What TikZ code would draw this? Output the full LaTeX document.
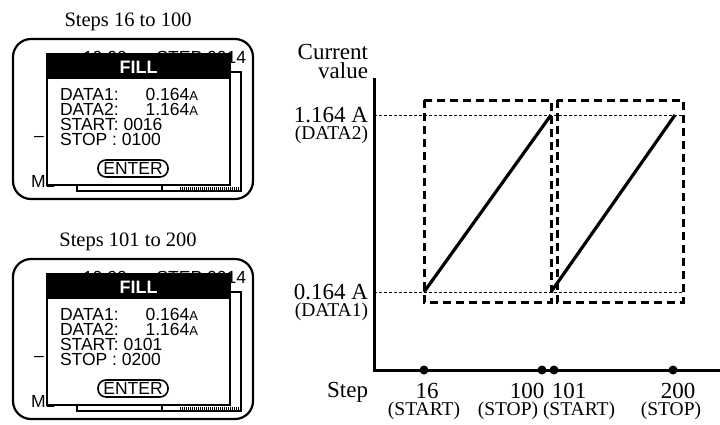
\documentclass[tikz,border=0pt]{standalone}
\usepackage{fontspec}
\setmainfont{Liberation Serif}
\newfontfamily\lcdfont{Liberation Sans}
\newcommand\smallA{{\fontsize{13}{13}\selectfont A}}
\tikzset{
  every node/.style={inner sep=0pt, outer sep=0pt},
  titletxt/.style={font=\fontsize{20.5}{20.5}\selectfont, anchor=base},
  lcdtxt/.style={font=\lcdfont\fontsize{17.5}{17.5}\selectfont, anchor=base west},
  lcdval/.style={font=\lcdfont\fontsize{17.5}{17.5}\selectfont, anchor=base east},
  filltxt/.style={font=\lcdfont\bfseries\fontsize{18}{18}\selectfont, text=white},
  enterbtn/.style={draw, line width=1.6pt, rounded corners=8pt, minimum width=70pt, minimum height=17pt, font=\lcdfont\fontsize{17.5}{17.5}\selectfont},
  screenframe/.style={line width=2.2pt, rounded corners=18pt},
  winframe/.style={line width=1.4pt},
  popupbox/.style={draw, fill=white, line width=2pt},
  ruler/.style={line width=2.6pt, dash pattern=on 1pt off 1pt},
  axislbl/.style={font=\fontsize{23}{23}\selectfont},
  parenlbl/.style={font=\fontsize{19.5}{19.5}\selectfont},
  axisline/.style={line width=3pt},
  guide/.style={line width=0.9pt, dash pattern=on 3pt off 2pt},
  rangebox/.style={line width=3pt, dash pattern=on 8pt off 5pt},
  ramp/.style={line width=3.2pt},
  tickdot/.style={circle, fill=black, minimum size=9pt}
}
\newcommand\lcdscreen[5]{%
\begin{scope}[shift={(0,#2)}]
  \node[titletxt] (#1title) at (128,26) {#3};
  \draw[screenframe] (13,39) rectangle (253,199);
  \node[lcdtxt] (#1clock) at (83,63.5) {10:00\smallA};
  \node[lcdval] (#1stepno) at (246,63.5) {STEP 0014};
  \draw[winframe] (77,72) rectangle (241,191);
  \draw[winframe] (162,185) -- (162,191);
  \draw[ruler] (180,188.5) -- (240,188.5);
  \node[lcdtxt] (#1minus) at (34,141) {–};
  \node[lcdtxt] (#1mem) at (31,187) {M1};
  \draw[popupbox] (47,54) rectangle (230,185);
  \fill (47,54) rectangle (230,79);
  \node[filltxt] (#1fill) at (138.5,67) {FILL};
  \node[lcdtxt] (#1d1) at (60,100) {DATA1:};
  \node[lcdval] (#1v1) at (198,100) {0.164\smallA};
  \node[lcdtxt] (#1d2) at (60,115) {DATA2:};
  \node[lcdval] (#1v2) at (198,115) {1.164\smallA};
  \node[lcdtxt] (#1start) at (60,130) {START: #4};
  \node[lcdtxt] (#1stop) at (60,145) {STOP : #5};
  \node[enterbtn] (#1enter) at (133,168.5) {ENTER};
\end{scope}}
\begin{document}
\begin{tikzpicture}[x=1pt, y=-1pt]
\useasboundingbox (0,0) rectangle (720,424);
\lcdscreen{a}{0}{Steps 16 to 100}{0016}{0100}
\lcdscreen{b}{220}{Steps 101 to 200}{0101}{0200}
% chart
\coordinate (top) at (374,78);
\coordinate (origin) at (374,370);
\coordinate (xend) at (720,370);
\node[axislbl, anchor=base east, align=right] (cur) at (368,78) {Current\\[-4pt]value};
\node[axislbl, anchor=base east] (hi) at (368,122) {1.164 A};
\node[parenlbl, anchor=base east] (hid) at (368,139) {(DATA2)};
\node[axislbl, anchor=base east] (lo) at (368,299) {0.164 A};
\node[parenlbl, anchor=base east] (lod) at (368,316) {(DATA1)};
\coordinate (hiL) at (374,115);
\coordinate (hiR) at (684,115);
\coordinate (loL) at (374,292);
\coordinate (loR) at (684,292);
\draw[guide] (hiL) -- (hiR);
\draw[guide] (loL) -- (loR);
\draw[rangebox] (424,100) rectangle (551,302);
\draw[rangebox] (557,100) rectangle (683,302);
\coordinate (r1a) at (424,292);
\coordinate (r1b) at (551,115);
\coordinate (r2a) at (551,292);
\coordinate (r2b) at (675,115);
\draw[ramp] (r1a) -- (r1b);
\draw[ramp] (r2a) -- (r2b);
\draw[axisline] (top) -- (origin) -- (xend);
\node[tickdot] (t16) at (424,370) {};
\node[tickdot] (t100) at (542,370) {};
\node[tickdot] (t101) at (554,370) {};
\node[tickdot] (t200) at (673,370) {};
\node[axislbl, anchor=base east] (steplbl) at (368,397) {Step};
\node[axislbl, anchor=base] (n16) at (427,398) {16};
\node[axislbl, anchor=base] (n100) at (527,398) {100};
\node[axislbl, anchor=base] (n101) at (569,398) {101};
\node[axislbl, anchor=base] (n200) at (678,398) {200};
\node[parenlbl, anchor=base] (p1) at (424,415) {(START)};
\node[parenlbl, anchor=base] (p2) at (508,415) {(STOP)};
\node[parenlbl, anchor=base] (p3) at (579,415) {(START)};
\node[parenlbl, anchor=base] (p4) at (671,415) {(STOP)};
\end{tikzpicture}
\end{document}
